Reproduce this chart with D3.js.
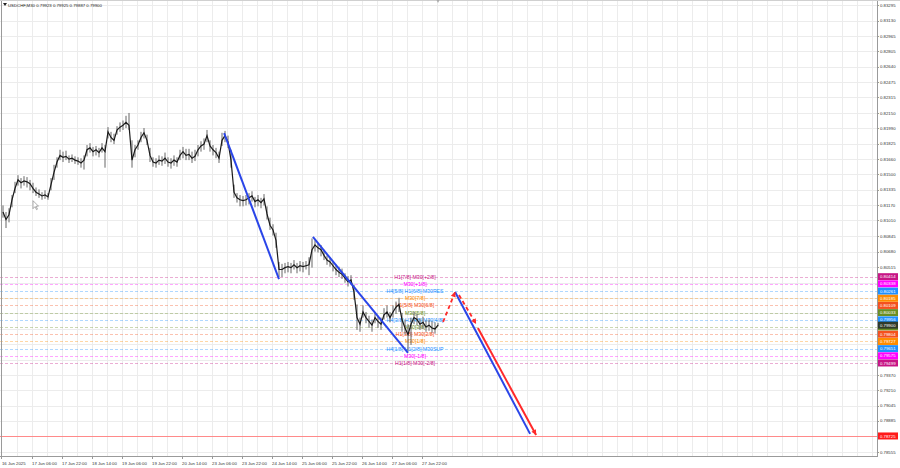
<!DOCTYPE html>
<html><head><meta charset="utf-8">
<script src="https://cdn.jsdelivr.net/npm/d3@7"></script>
<style>body{margin:0;background:#fff;overflow:hidden}svg{display:block;font-family:"Liberation Sans",Arial,sans-serif}</style>
</head><body><svg id="c" width="900" height="468"></svg>
<script>
// ---- data ----
const symbolTitle = "USDCHF,M30  0.79923 0.79925 0.79887 0.79900";
const closes = [0.8110,0.8102,0.8107,0.8123,0.8135,0.8144,0.8141,0.8143,0.8142,0.8140,
0.8135,0.8131,0.8129,0.8127,0.8128,0.8126,0.8139,0.8152,0.8163,0.8170,
0.8168,0.8169,0.8166,0.8167,0.8165,0.8164,0.8162,0.8165,0.8176,0.8178,
0.8174,0.8176,0.8173,0.8178,0.8174,0.8195,0.8189,0.8186,0.8197,0.8200,
0.8202,0.8205,0.8202,0.8165,0.8176,0.8181,0.8189,0.8194,0.8186,0.8170,
0.8163,0.8162,0.8165,0.8164,0.8167,0.8163,0.8162,0.8165,0.8163,0.8170,
0.8174,0.8170,0.8171,0.8167,0.8169,0.8176,0.8180,0.8182,0.8191,0.8180,
0.8176,0.8173,0.8167,0.8186,0.8191,0.8184,0.8165,0.8131,0.8125,0.8123,
0.8122,0.8123,0.8125,0.8127,0.8121,0.8123,0.8120,0.8124,0.8108,0.8096,
0.8091,0.8080,0.8049,0.8049,0.8051,0.8052,0.8051,0.8054,0.8051,0.8053,
0.8052,0.8053,0.8054,0.8070,0.8075,0.8072,0.8070,0.8064,0.8059,0.8057,
0.8053,0.8049,0.8046,0.8044,0.8040,0.8036,0.8038,0.8025,0.7998,0.7991,
0.8004,0.7998,0.7994,0.7990,0.7998,0.7994,0.7991,0.8001,0.8004,0.7998,
0.8004,0.8009,0.8012,0.7996,0.7987,0.7980,0.7991,0.7998,0.7996,0.7991,
0.7993,0.7988,0.7990,0.7987,0.7986,0.79900];
const highs = [0.8117,0.8110,0.8114,0.8128,0.8142,0.8149,0.8146,0.8148,0.8147,0.8144,
0.8141,0.8136,0.8134,0.8131,0.8133,0.8130,0.8146,0.8160,0.8168,0.8176,
0.8174,0.8175,0.8170,0.8171,0.8169,0.8168,0.8167,0.8170,0.8181,0.8183,
0.8179,0.8180,0.8178,0.8183,0.8181,0.8200,0.8195,0.8193,0.8201,0.8205,
0.8207,0.8212,0.8215,0.8186,0.8181,0.8186,0.8195,0.8199,0.8192,0.8178,
0.8168,0.8167,0.8170,0.8169,0.8173,0.8168,0.8167,0.8170,0.8168,0.8176,
0.8179,0.8177,0.8177,0.8174,0.8176,0.8181,0.8185,0.8188,0.8197,0.8186,
0.8181,0.8178,0.8174,0.8194,0.8196,0.8191,0.8176,0.8139,0.8130,0.8128,
0.8127,0.8128,0.8130,0.8132,0.8126,0.8128,0.8125,0.8129,0.8116,0.8104,
0.8097,0.8088,0.8057,0.8055,0.8056,0.8057,0.8056,0.8059,0.8056,0.8058,
0.8057,0.8058,0.8062,0.8082,0.8080,0.8077,0.8075,0.8070,0.8064,0.8062,
0.8058,0.8054,0.8052,0.8050,0.8045,0.8042,0.8043,0.8033,0.8012,0.7998,
0.8011,0.8004,0.8000,0.7996,0.8004,0.8000,0.7998,0.8008,0.8011,0.8004,
0.8011,0.8015,0.8019,0.8003,0.7996,0.7991,0.7998,0.8004,0.8002,0.7997,
0.7999,0.7995,0.7996,0.7994,0.7993,0.79925];
const lows = [0.8104,0.8093,0.8099,0.8115,0.8130,0.8138,0.8135,0.8138,0.8136,0.8133,
0.8130,0.8127,0.8125,0.8123,0.8124,0.8123,0.8133,0.8144,0.8157,0.8165,
0.8163,0.8165,0.8162,0.8163,0.8161,0.8160,0.8157,0.8155,0.8169,0.8173,
0.8169,0.8170,0.8168,0.8173,0.8157,0.8188,0.8184,0.8182,0.8192,0.8195,
0.8197,0.8199,0.8197,0.8157,0.8168,0.8176,0.8184,0.8188,0.8181,0.8163,
0.8158,0.8157,0.8160,0.8159,0.8161,0.8158,0.8156,0.8159,0.8158,0.8165,
0.8167,0.8165,0.8165,0.8162,0.8164,0.8169,0.8174,0.8176,0.8184,0.8174,
0.8170,0.8167,0.8162,0.8180,0.8184,0.8178,0.8157,0.8125,0.8120,0.8116,
0.8116,0.8117,0.8118,0.8121,0.8115,0.8116,0.8114,0.8117,0.8102,0.8091,
0.8085,0.8072,0.8041,0.8041,0.8045,0.8046,0.8045,0.8049,0.8045,0.8047,
0.8046,0.8049,0.8043,0.8051,0.8068,0.8067,0.8063,0.8059,0.8054,0.8052,
0.8047,0.8043,0.8041,0.8039,0.8035,0.8031,0.8033,0.8017,0.7985,0.7983,
0.7998,0.7992,0.7987,0.7983,0.7992,0.7987,0.7985,0.7996,0.7998,0.7993,
0.7998,0.8002,0.8004,0.7983,0.7980,0.7962,0.7969,0.7991,0.7990,0.7985,
0.7986,0.7983,0.7984,0.7982,0.7981,0.79887];

const priceTicks = [0.83295,0.83130,0.82965,0.82805,0.82640,0.82475,0.82315,0.82150,0.81990,0.81825,
0.81660,0.81500,0.81335,0.81170,0.81010,0.80845,0.80680,0.80515,0.80350,0.80190,0.80025,0.79860,
0.79700,0.79535,0.79370,0.79210,0.79045,0.78885,0.78720,0.78555];
const timeLabels = ["16 Jun 2025","17 Jun 06:00","17 Jun 22:00","18 Jun 14:00","19 Jun 06:00","19 Jun 22:00",
"20 Jun 14:00","23 Jun 06:00","23 Jun 22:00","24 Jun 14:00","25 Jun 06:00","25 Jun 22:00","26 Jun 14:00",
"27 Jun 06:00","27 Jun 22:00"];

const levelPrices = [0.80414,0.80338,0.80261,0.80185,0.80109,0.80033,0.79956,0.79881,0.79804,0.79727,0.79651,0.79575,0.79499];
const levelTexts = ["H1[7/8] M30[+2/8]","M30[+1/8]","H4[5/8] H1[6/8] M30RES","M30[7/8]","H1[5/8] M30[6/8]","M30[5/8]",
"H4[3/8] H1[4/8] M30[4/8]","M30[3/8]","H1[3/8] M30[2/8]","M30[1/8]","H4[1/8] H1[2/8] M30SUP","M30[-1/8]","H1[1/8] M30[-2/8]"];
const levelColors = ["#c71585","#ff00ff","#1e90ff","#ff8c00","#f4511e","#6b8e23","#1e90ff","#6b8e23","#f4511e","#ff8c00","#1e90ff","#ff00ff","#c71585"];
const currentPrice = 0.79900;
const targetPrice = 0.78725;

// trend lines: [barIndex0, price0, barIndex1, price1]
const blueLines = [[73.7,0.81937,92,0.80389],[103.3,0.80835,135,0.79605],[150.7,0.80252,175.7,0.78747]];
const redDashed = [[146.7,0.79934,150.7,0.80252],[152,0.80220,157.7,0.79913]];
const redSolid = [[158.3,0.79870,177.7,0.78736]];
// mouse pointer seen in the screenshot: [barIndex, price]
const pointerAt = [10, 0.81220];

// ---- drawing ----
const svg = d3.select("#c");
const W = 900, H = 468, plotR = 877, plotB = 456;
const x = d3.scaleLinear().domain([0, closes.length - 1]).range([3, 438]);
const y = d3.scaleLinear().domain([0.78555, 0.83295]).range([452, 5]);
const labelBar = d3.scaleLinear().domain([0, 1]).range([-0.5, 9.5]); // label k -> bar index

svg.append("rect").attr("width", W).attr("height", H).attr("fill", "#fff");

// grid
const g = svg.append("g");
const gridStep = (x(labelBar(1)) - x(labelBar(0))) / 2;
const gridXs = d3.range(x(labelBar(0)), plotR, gridStep);
g.selectAll(".vg").data(gridXs).join("line")
  .attr("x1", d => Math.round(d) + 0.5).attr("x2", d => Math.round(d) + 0.5)
  .attr("y1", 0).attr("y2", plotB).attr("stroke", "#ececec").attr("stroke-width", 1);
g.selectAll(".hg").data(priceTicks).join("line")
  .attr("x1", 0).attr("x2", plotR).attr("y1", d => Math.round(y(d)) + 0.5).attr("y2", d => Math.round(y(d)) + 0.5)
  .attr("stroke", "#ececec").attr("stroke-width", 1);

// murrey levels
const lv = levelPrices.map((p, i) => ({p, t: levelTexts[i], c: levelColors[i]}));
svg.selectAll(".lvl").data(lv).join("line")
  .attr("x1", 0).attr("x2", plotR).attr("y1", d => Math.round(y(d.p)) + 0.5).attr("y2", d => Math.round(y(d.p)) + 0.5)
  .attr("stroke", d => d.c).attr("stroke-opacity", 0.35).attr("stroke-width", 1).attr("stroke-dasharray", "3,2");

// target line
svg.append("line").attr("x1", 0).attr("x2", plotR)
  .attr("y1", Math.round(y(targetPrice)) + 0.5).attr("y2", Math.round(y(targetPrice)) + 0.5)
  .attr("stroke", "#ff8a8a").attr("stroke-width", 1);

// level texts
svg.selectAll(".lt").data(lv).join("text")
  .attr("x", 415).attr("y", d => y(d.p) + 2).attr("text-anchor", "middle")
  .attr("font-size", 5.2).attr("fill", d => d.c).text(d => d.t);

// candles
const bars = closes.map((c, i) => ({i, c, h: highs[i], l: lows[i], o: i ? closes[i - 1] : c}));
svg.selectAll(".wk").data(bars).join("line")
  .attr("x1", d => x(d.i)).attr("x2", d => x(d.i)).attr("y1", d => y(d.h)).attr("y2", d => y(d.l))
  .attr("stroke", "#666").attr("stroke-width", 1);
svg.append("path").datum(bars)
  .attr("d", d3.line().x(d => x(d.i)).y(d => y(d.c)))
  .attr("fill", "none").attr("stroke", "#1a1a1a").attr("stroke-width", 1.2);

// trend lines
const seg = (sel, data, color, dash, w) => sel.selectAll(null).data(data).join("line")
  .attr("x1", d => x(d[0])).attr("y1", d => y(d[1])).attr("x2", d => x(d[2])).attr("y2", d => y(d[3]))
  .attr("stroke", color).attr("stroke-width", w).attr("stroke-dasharray", dash);
seg(svg, blueLines, "#2a45e8", null, 2);
seg(svg, redDashed, "#ff2a2a", "4,3", 1.8);
seg(svg, redSolid, "#ff2a2a", null, 2);
const arrows = redDashed.concat(redSolid);
svg.selectAll(".ah").data(arrows).join("path")
  .attr("d", d => {
    const x1 = x(d[0]), y1 = y(d[1]), x2 = x(d[2]), y2 = y(d[3]);
    const a = Math.atan2(y2 - y1, x2 - x1), L = 5, Wd = 2.6;
    const bx = x2 - L * Math.cos(a), by = y2 - L * Math.sin(a);
    return `M${x2},${y2}L${bx + Wd * Math.sin(a)},${by - Wd * Math.cos(a)}L${bx - Wd * Math.sin(a)},${by + Wd * Math.cos(a)}Z`;
  }).attr("fill", "#ff2a2a");

// mouse pointer
const px = x(pointerAt[0]), py = y(pointerAt[1]);
svg.append("path")
  .attr("d", `M${px},${py}L${px},${py + 8}L${px + 2},${py + 6}L${px + 3.5},${py + 9}L${px + 4.5},${py + 8.5}L${px + 3},${py + 5.5}L${px + 5.5},${py + 5.5}Z`)
  .attr("fill", "#fff").attr("stroke", "#777").attr("stroke-width", 0.6);

// frame
svg.append("line").attr("x1", 1.5).attr("x2", 1.5).attr("y1", 0).attr("y2", plotB).attr("stroke", "#9a9a9a");
svg.append("line").attr("x1", plotR + 0.5).attr("x2", plotR + 0.5).attr("y1", 0).attr("y2", plotB).attr("stroke", "#9a9a9a");
svg.append("line").attr("x1", 0).attr("x2", plotR + 1).attr("y1", plotB + 0.5).attr("y2", plotB + 0.5).attr("stroke", "#9a9a9a");
svg.append("line").attr("x1", 0).attr("x2", W).attr("y1", 0.5).attr("y2", 0.5).attr("stroke", "#d0d0d0");
svg.append("path").attr("d", `M${x(closes.length - 1) - 1.5},0L${x(closes.length - 1) + 1.5},0L${x(closes.length - 1)},3Z`).attr("fill", "#aaa");

// price tags (collect positions so that covered tick labels are not drawn)
const tags = lv.map(d => ({p: d.p, c: d.c, text: d.p !== 0.79881})).concat([
  {p: currentPrice, c: "#2f3a2a", text: true}, {p: targetPrice, c: "#ff1a1a", text: true}]);
const covered = t => tags.some(s => Math.abs(y(s.p) - y(t)) < 6);

// right axis
const visibleTicks = priceTicks.filter(t => !covered(t));
svg.selectAll(".pt").data(visibleTicks).join("text")
  .attr("x", 880).attr("y", d => y(d) + 1.6).attr("font-size", 4.3).attr("fill", "#333")
  .text(d => d.toFixed(5));
svg.selectAll(".ptk").data(priceTicks).join("line")
  .attr("x1", plotR).attr("x2", plotR + 2).attr("y1", d => Math.round(y(d)) + 0.5).attr("y2", d => Math.round(y(d)) + 0.5)
  .attr("stroke", "#9a9a9a");

// bottom axis
svg.selectAll(".tl").data(timeLabels).join("text")
  .attr("x", (d, k) => x(labelBar(k)) + 0.5).attr("y", 465).attr("font-size", 4.3).attr("fill", "#333")
  .text(d => d);
svg.selectAll(".tk").data(timeLabels).join("line")
  .attr("x1", (d, k) => Math.round(x(labelBar(k))) + 0.5).attr("x2", (d, k) => Math.round(x(labelBar(k))) + 0.5)
  .attr("y1", plotB).attr("y2", plotB + 3).attr("stroke", "#9a9a9a");

// tags drawn
tags.forEach(s => {
  const gg = svg.append("g");
  gg.append("rect").attr("x", plotR + 1).attr("y", y(s.p) - 3.5).attr("width", 20).attr("height", 7).attr("fill", s.c);
  if (s.text) gg.append("text").attr("x", 880).attr("y", y(s.p) + 1.6).attr("font-size", 4.3).attr("fill", "#fff").text(s.p.toFixed(5));
});

// title
svg.append("path").attr("d", "M3,3L7,3L5,6Z").attr("fill", "#222");
svg.append("text").attr("x", 8).attr("y", 6.5).attr("font-size", 4.3).attr("fill", "#222").text(symbolTitle);
</script></body></html>
